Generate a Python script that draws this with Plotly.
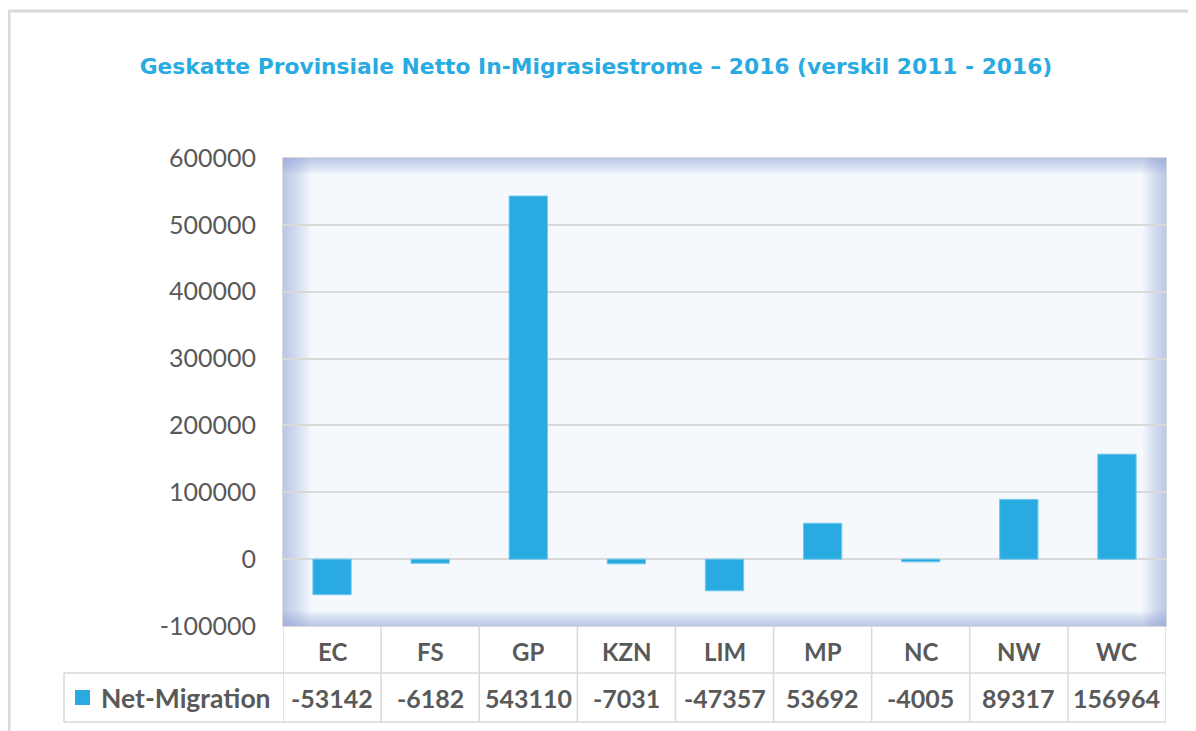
import plotly.graph_objects as go

# ---- data ----
categories = ["EC", "FS", "GP", "KZN", "LIM", "MP", "NC", "NW", "WC"]
net_migration = [-53142, -6182, 543110, -7031, -47357, 53692, -4005, 89317, 156964]
series_name = "Net-Migration"
y_ticks = [-100000, 0, 100000, 200000, 300000, 400000, 500000, 600000]
title_text = "Geskatte Provinsiale Netto In-Migrasiestrome – 2016 (verskil 2011 - 2016)"

# ---- layout geometry (target screen pixels) ----
W, H = 1196, 731
OFF = 8  # page body margin
PL, PR, PT, PB = 283, 1166, 158, 626
pw, ph = PR - PL, PB - PT


def px(x):
    return (x - PL) / pw


def py(y):
    return (PB - y) / ph


BLUE = "#29abe2"
GRAY_TXT = "#595959"
LINE = "#d9d9d9"
FONT = "Lato"

fig = go.Figure()
fig.add_trace(go.Bar(
    x=categories, y=net_migration, name=series_name,
    marker=dict(color=BLUE, line=dict(color="#6cc7ee", width=1)),
    width=0.39, showlegend=False,
))

shapes = []
# outer frame
shapes.append(dict(type="rect", xref="paper", yref="paper",
                   x0=px(9), x1=px(1300), y0=py(11), y1=py(900),
                   line=dict(color=LINE, width=3), fillcolor="rgba(0,0,0,0)", layer="below"))

# plot area glow (inner shadow)
n = 12
edges = {"left": 27, "right": 23, "top": 16, "bottom": 15}
for j in range(n):
    f = 1 - j / n
    col = "rgba(130,165,212,0.05)"
    wl = edges["left"] * f
    wr = edges["right"] * f
    wt = edges["top"] * f
    wb = edges["bottom"] * f
    shapes.append(dict(type="rect", xref="paper", yref="paper", x0=0, x1=px(PL + wl), y0=0, y1=1,
                       line=dict(width=0), fillcolor=col, layer="below"))
    shapes.append(dict(type="rect", xref="paper", yref="paper", x0=px(PR - wr), x1=1, y0=0, y1=1,
                       line=dict(width=0), fillcolor=col, layer="below"))
    shapes.append(dict(type="rect", xref="paper", yref="paper", x0=0, x1=1, y0=py(PT + wt), y1=1,
                       line=dict(width=0), fillcolor=col, layer="below"))
    shapes.append(dict(type="rect", xref="paper", yref="paper", x0=0, x1=1, y0=0, y1=py(PB - wb),
                       line=dict(width=0), fillcolor=col, layer="below"))

# data table lines
row1_bottom = 673
row2_bottom = 722
for i in range(len(categories) + 1):
    shapes.append(dict(type="line", xref="x", yref="paper", x0=i - 0.5, x1=i - 0.5,
                       y0=0, y1=py(row2_bottom), line=dict(color=LINE, width=1.5)))
shapes.append(dict(type="line", xref="paper", yref="paper", x0=px(64), x1=px(64),
                   y0=py(row1_bottom), y1=py(row2_bottom), line=dict(color=LINE, width=1.5)))
for yy in (row1_bottom, row2_bottom):
    shapes.append(dict(type="line", xref="paper", yref="paper", x0=px(64), x1=1,
                       y0=py(yy), y1=py(yy), line=dict(color=LINE, width=1.5)))
# legend key
shapes.append(dict(type="rect", xref="paper", yref="paper", x0=px(75), x1=px(90),
                   y0=py(705), y1=py(690), line=dict(width=0), fillcolor=BLUE))

annotations = []
for c, v in zip(categories, net_migration):
    annotations.append(dict(x=c, xref="x", y=py(651), yref="paper", text=c, showarrow=False,
                            font=dict(family=FONT, size=24, color=GRAY_TXT, weight="bold"),
                            xanchor="center", yanchor="middle"))
    annotations.append(dict(x=c, xref="x", y=py(698), yref="paper", text=str(v), showarrow=False,
                            font=dict(family=FONT, size=25, color=GRAY_TXT, weight="bold"),
                            xanchor="center", yanchor="middle"))
annotations.append(dict(x=px(99), xref="paper", y=py(698), yref="paper", text=series_name,
                        showarrow=False, xanchor="left", yanchor="middle",
                        font=dict(family=FONT, size=26.5, color=GRAY_TXT, weight="bold")))

fig.update_layout(
    width=W, height=H,
    margin=dict(l=PL - OFF, r=W - (PR - OFF), t=PT - OFF, b=H - (PB - OFF), autoexpand=False),
    paper_bgcolor="white",
    plot_bgcolor="#f5f9fd",
    title=dict(text=title_text, xref="container", yref="container",
               x=(596 - OFF) / W, xanchor="center", y=1 - (66 - OFF) / H, yanchor="middle",
               font=dict(family="DejaVu Sans", size=21.8, color=BLUE, weight="bold")),
    xaxis=dict(showticklabels=False, showgrid=False, showline=True, mirror=True,
               linecolor=LINE, linewidth=1, range=[-0.5, len(categories) - 0.5], ticks=""),
    yaxis=dict(range=[-100000, 600000], tickvals=y_ticks, ticktext=[str(t) for t in y_ticks],
               showgrid=True, gridcolor=LINE, gridwidth=1.5, zeroline=True, zerolinecolor=LINE,
               zerolinewidth=1.5, showline=True, mirror=True, linecolor=LINE, linewidth=1,
               tickfont=dict(family=FONT, size=25, color=GRAY_TXT), ticks="", ticklabelstandoff=21),
    shapes=shapes,
    annotations=annotations,
    bargap=0.61,
)

fig.write_html("out.html")
